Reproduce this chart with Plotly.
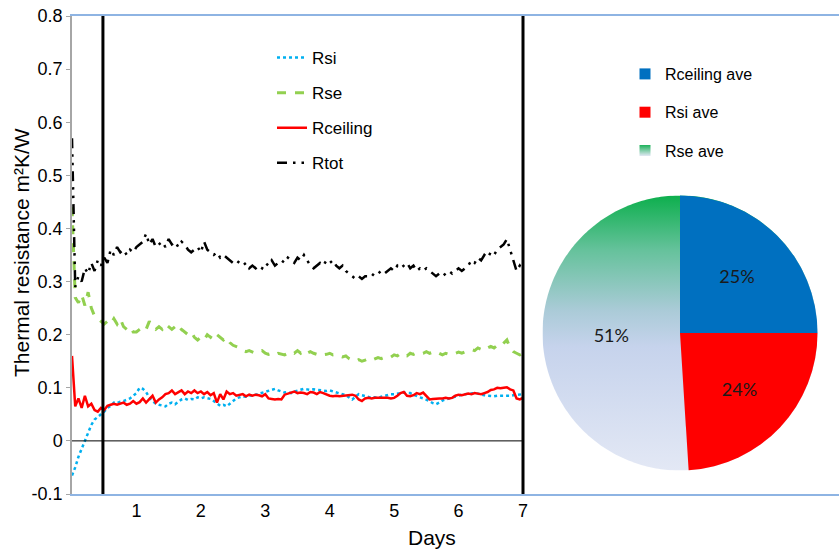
import numpy as np
import plotly.graph_objects as go

# ---- time series: thermal resistance over one week (sampled every 0.05 day) ----
days = [round(0.05 * i, 2) for i in range(141)]

r_tot = [
    0.57, 0.29, 0.31, 0.30, 0.325, 0.315, 0.335, 0.32, 0.34, 0.33,
    0.345, 0.335, 0.36, 0.35, 0.365, 0.355, 0.36, 0.35, 0.36, 0.355,
    0.365, 0.37, 0.375, 0.39, 0.37, 0.38, 0.365, 0.37, 0.375, 0.365,
    0.38, 0.37, 0.375, 0.365, 0.375, 0.37, 0.36, 0.355, 0.36, 0.365,
    0.355, 0.375, 0.36, 0.355, 0.35, 0.355, 0.345, 0.35, 0.345, 0.34,
    0.335, 0.34, 0.335, 0.33, 0.335, 0.325, 0.33, 0.325, 0.33, 0.325,
    0.335, 0.33, 0.34, 0.33, 0.335, 0.34, 0.335, 0.345, 0.34, 0.335,
    0.345, 0.34, 0.35, 0.34, 0.33, 0.325, 0.33, 0.335, 0.33, 0.34,
    0.335, 0.34, 0.33, 0.325, 0.33, 0.32, 0.315, 0.31, 0.305, 0.31,
    0.305, 0.31, 0.31, 0.315, 0.31, 0.315, 0.32, 0.315, 0.32, 0.325,
    0.32, 0.33, 0.325, 0.33, 0.335, 0.325, 0.33, 0.32, 0.325, 0.32,
    0.325, 0.32, 0.315, 0.31, 0.315, 0.31, 0.315, 0.32, 0.315, 0.32,
    0.325, 0.32, 0.325, 0.33, 0.34, 0.335, 0.345, 0.34, 0.35, 0.345,
    0.355, 0.35, 0.36, 0.365, 0.37, 0.38, 0.36, 0.34, 0.32, 0.33,
    0.32,
]

r_se = [
    0.44, 0.27, 0.26, 0.275, 0.255, 0.28, 0.25, 0.235, 0.23, 0.225,
    0.22, 0.225, 0.22, 0.23, 0.22, 0.23, 0.215, 0.21, 0.215, 0.205,
    0.205, 0.21, 0.215, 0.21, 0.225, 0.215, 0.21, 0.215, 0.21, 0.22,
    0.215, 0.21, 0.215, 0.205, 0.21, 0.205, 0.2, 0.205, 0.195, 0.19,
    0.195, 0.19, 0.2, 0.195, 0.205, 0.2, 0.195, 0.19, 0.195, 0.185,
    0.18, 0.178, 0.175, 0.17, 0.168, 0.17, 0.168, 0.165, 0.168, 0.17,
    0.165, 0.163, 0.165, 0.162, 0.165, 0.163, 0.162, 0.165, 0.168, 0.165,
    0.17, 0.165, 0.17, 0.165, 0.168, 0.165, 0.163, 0.165, 0.162, 0.163,
    0.165, 0.162, 0.163, 0.16, 0.158, 0.16, 0.155, 0.152, 0.15, 0.153,
    0.15, 0.152, 0.155, 0.152, 0.155, 0.157, 0.155, 0.158, 0.16, 0.158,
    0.162, 0.16, 0.165, 0.162, 0.16, 0.165, 0.163, 0.166, 0.164, 0.165,
    0.168, 0.165, 0.167, 0.163, 0.165, 0.162, 0.165, 0.163, 0.162, 0.165,
    0.167, 0.165, 0.168, 0.17, 0.172, 0.17, 0.175, 0.172, 0.17, 0.175,
    0.178, 0.175, 0.18, 0.178, 0.185, 0.19, 0.175, 0.168, 0.165, 0.162,
    0.165,
]

r_ceiling = [
    0.16, 0.065, 0.08, 0.062, 0.085, 0.065, 0.07, 0.058, 0.055, 0.062,
    0.058, 0.066, 0.068, 0.07, 0.068, 0.07, 0.072, 0.068, 0.07, 0.075,
    0.07, 0.073, 0.08, 0.072, 0.078, 0.085, 0.072, 0.078, 0.082, 0.088,
    0.09, 0.095, 0.088, 0.092, 0.095, 0.088, 0.093, 0.09, 0.095, 0.09,
    0.093, 0.088, 0.092, 0.086, 0.09, 0.072, 0.088, 0.078, 0.093, 0.088,
    0.09, 0.085, 0.086, 0.088, 0.084, 0.087, 0.085, 0.087, 0.086, 0.084,
    0.088, 0.08, 0.079, 0.078, 0.079, 0.078, 0.087, 0.089, 0.09, 0.093,
    0.09, 0.091, 0.09, 0.088, 0.092, 0.091, 0.088, 0.092, 0.09, 0.087,
    0.085, 0.084, 0.085, 0.084, 0.085, 0.086, 0.086, 0.087, 0.085, 0.078,
    0.075, 0.08, 0.081, 0.08, 0.081, 0.081, 0.081, 0.082, 0.081, 0.08,
    0.081, 0.085, 0.09, 0.092, 0.085, 0.084, 0.086, 0.09, 0.088, 0.091,
    0.084, 0.078, 0.079, 0.08, 0.08, 0.08, 0.081, 0.08, 0.081, 0.085,
    0.087, 0.086, 0.088, 0.089, 0.088, 0.09, 0.089, 0.088, 0.09, 0.092,
    0.096, 0.097, 0.1, 0.099, 0.1, 0.101, 0.097, 0.095, 0.08, 0.078,
    0.081,
]

r_si = [
    -0.065, -0.05, -0.03, -0.015, 0.0, 0.018, 0.03, 0.04, 0.046, 0.05,
    0.055, 0.062, 0.066, 0.072, 0.071, 0.074, 0.075, 0.078, 0.08, 0.085,
    0.09, 0.1, 0.098, 0.092, 0.082, 0.075, 0.07, 0.068, 0.066, 0.065,
    0.07, 0.072, 0.069, 0.074, 0.078, 0.08, 0.077, 0.079, 0.078, 0.082,
    0.08, 0.082, 0.081, 0.079, 0.075, 0.071, 0.066, 0.068, 0.065, 0.07,
    0.075, 0.08, 0.082, 0.084, 0.083, 0.086, 0.085, 0.087, 0.088, 0.09,
    0.092, 0.094, 0.097, 0.098, 0.095, 0.093, 0.091, 0.092, 0.09, 0.093,
    0.095, 0.097, 0.098, 0.097, 0.096, 0.097, 0.096, 0.095, 0.094, 0.094,
    0.095, 0.093, 0.092, 0.09, 0.088, 0.086, 0.082, 0.078, 0.083, 0.088,
    0.086, 0.084, 0.082, 0.081, 0.082, 0.081, 0.083, 0.085, 0.087, 0.088,
    0.088, 0.089, 0.09, 0.091, 0.09, 0.09, 0.087, 0.084, 0.082, 0.08,
    0.078, 0.075, 0.071, 0.069, 0.072, 0.076, 0.078, 0.08, 0.081, 0.083,
    0.085, 0.087, 0.088, 0.089, 0.09, 0.09, 0.089, 0.087, 0.086, 0.085,
    0.084, 0.084, 0.085, 0.085, 0.084, 0.084, 0.085, 0.086, 0.087, 0.088,
    0.088,
]

# analysis window boundaries (days)
window_days = [0.48, 7]

# ---- pie: share of each average resistance ----
pie_labels = ["Rceiling ave", "Rsi ave", "Rse ave"]
pie_values = [25, 24, 51]

# ---- axis ticks ----
x_tickvals = [1, 2, 3, 4, 5, 6, 7]
y_tickvals = [-0.1, 0, 0.1, 0.2, 0.3, 0.4, 0.5, 0.6, 0.7, 0.8]
y_ticktext = ["-0.1", "0", "0.1", "0.2", "0.3", "0.4", "0.5", "0.6", "0.7", "0.8"]

FONT = "Liberation Sans, Arial, sans-serif"
W, H = 839, 555
M_L, M_R, M_T, M_B = 72, 0, 16, 61
PW, PH = W - M_L - M_R, H - M_T - M_B

def px_x(px):
    return (px - M_L) / PW

def px_y(py):
    return (H - M_B - py) / PH

fig = go.Figure()

series = [
    ("Rsi", r_si, dict(color="#00B0F0", width=2.5, dash="dot")),
    ("Rse", r_se, dict(color="#92D050", width=3, dash="dash")),
    ("Rceiling", r_ceiling, dict(color="#FF0000", width=2.5)),
    ("Rtot", r_tot, dict(color="#000000", width=2.5, dash="10px,6px,2.5px,6px,2.5px,6px")),
]
for name, vals, line in series:
    fig.add_trace(go.Scatter(
        x=days, y=vals, name=name, mode="lines", line=line,
        legend="legend", legendgroup=name, hoverinfo="x+y+name",
    ))

# pie disk geometry (shared by the gradient backdrop and the pie itself)
cx, cy, rad = 680, 333, 137.5
dom_x = [px_x(cx - rad), px_x(cx + rad)]
dom_y = [px_y(cy + rad), px_y(cy - rad)]

# gradient backdrop that shows through the Rse slice
theta = np.linspace(0, 2 * np.pi, 361)
fig.add_trace(go.Scatter(
    x=np.cos(theta), y=np.sin(theta), xaxis="x2", yaxis="y2",
    mode="none", fill="toself", showlegend=False, hoverinfo="skip",
    fillgradient=dict(
        type="vertical", start=-1, stop=1,
        colorscale=[[0.0, "#E3E8F5"], [0.45, "#C6D3EC"], [0.58, "#ABCBD8"],
                    [0.8, "#66C29C"], [1.0, "#0DAF4D"]],
    ),
))

pie_colors = ["#0070C0", "#FF0000", "rgba(0,0,0,0)"]
fig.add_trace(go.Pie(
    labels=pie_labels, values=pie_values, sort=False, direction="clockwise",
    rotation=0, domain=dict(x=dom_x, y=dom_y),
    marker=dict(colors=pie_colors, line=dict(width=0)),
    texttemplate="%{percent:.0%}", textposition="inside",
    insidetextorientation="horizontal",
    textfont=dict(family="Lato, sans-serif", size=18, color="#1A1A1A"),
    showlegend=False, hoverinfo="label+percent",
))

# legend swatches for the pie
swatches = [
    ("Rceiling ave", dict(color="#0070C0")),
    ("Rsi ave", dict(color="#FF0000")),
    ("Rse ave", dict(color="#1DB25A", gradient=dict(type="vertical", color="#E3E8F5"))),
]
for name, mk in swatches:
    fig.add_trace(go.Scatter(
        x=[None], y=[None], xaxis="x2", yaxis="y2", name=name, mode="markers",
        marker=dict(symbol="square", size=11, line=dict(width=0), **mk),
        legend="legend2", legendgroup=name,
    ))

shapes = [
    dict(type="line", xref="x", yref="y", x0=0, x1=7, y0=0, y1=0,
         line=dict(color="#000000", width=1)),
]
for d in window_days:
    shapes.append(dict(type="line", xref="x", yref="paper", x0=d, x1=d, y0=0, y1=1,
                       line=dict(color="#000000", width=3)))

fig.update_layout(
    width=W, height=H,
    margin=dict(l=M_L, r=M_R, t=M_T, b=M_B),
    paper_bgcolor="white", plot_bgcolor="white",
    font=dict(family=FONT, color="#000000"),
    showlegend=True,
    xaxis=dict(
        domain=[0, 1], range=[0, 7 * PW / 451], tickvals=x_tickvals,
        showgrid=False, zeroline=False, showline=True, mirror=True,
        linecolor="#8EB4E3", linewidth=1.5, ticks="",
        ticklabelstandoff=0, tickfont=dict(size=18, family=FONT),
    ),
    yaxis=dict(
        range=[-0.1, 0.8], tickvals=y_tickvals, ticktext=y_ticktext,
        showgrid=False, zeroline=False, showline=True, linecolor="#A6A6A6",
        linewidth=1.5, ticks="outside", ticklen=4, tickcolor="#A6A6A6",
        tickfont=dict(size=18, family=FONT),
    ),
    xaxis2=dict(domain=dom_x, range=[-1, 1], visible=False, fixedrange=True),
    yaxis2=dict(domain=dom_y, range=[-1, 1], visible=False, fixedrange=True),
    legend=dict(
        x=px_x(272), y=px_y(40), xanchor="left", yanchor="top",
        bgcolor="rgba(0,0,0,0)", borderwidth=0, traceorder="grouped",
        tracegroupgap=10, font=dict(size=17, family=FONT),
    ),
    legend2=dict(
        x=px_x(625), y=px_y(57), xanchor="left", yanchor="top",
        bgcolor="rgba(0,0,0,0)", borderwidth=0, traceorder="grouped",
        tracegroupgap=14.5, font=dict(size=16, family=FONT),
    ),
    shapes=shapes,
    annotations=[
        dict(text="Thermal resistance m²K/W", xref="paper", yref="paper",
             x=px_x(21), y=px_y(253), xanchor="center", yanchor="middle",
             textangle=-90, showarrow=False, font=dict(size=21, family=FONT)),
        dict(text="Days", xref="paper", yref="paper",
             x=px_x(432), y=px_y(537), xanchor="center", yanchor="middle",
             showarrow=False, font=dict(size=21, family=FONT)),
    ],
)

fig.write_html("out.html")
